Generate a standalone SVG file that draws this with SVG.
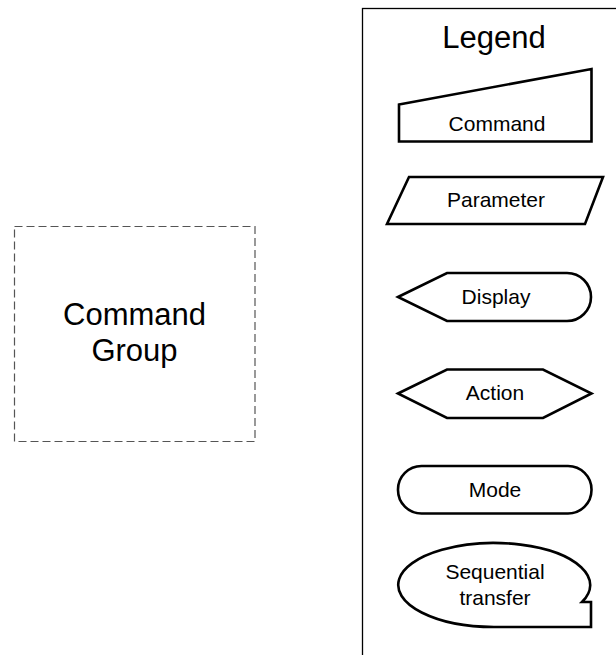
<svg xmlns="http://www.w3.org/2000/svg" width="616" height="655" viewBox="0 0 616 655">
<style>
.shape{fill:#fff;stroke:#000;stroke-width:2.6;stroke-linejoin:miter}
.lbl{font-family:"Liberation Sans",Arial,sans-serif;font-size:21px;fill:#000;text-anchor:middle}
.big{font-family:"Liberation Sans",Arial,sans-serif;font-size:31px;fill:#000;text-anchor:middle}
</style>
<rect width="616" height="655" fill="#fff"/>
<g id="command-group">
<rect x="14.5" y="226.5" width="240.5" height="215" fill="none" stroke="#555" stroke-width="1.2" stroke-dasharray="8,4"/>
<text class="big" x="134.5" y="325">Command</text>
<text class="big" x="134.5" y="361">Group</text>
</g>
<g id="legend">
<rect x="362.5" y="8.5" width="270" height="660" fill="#fff" stroke="#000" stroke-width="1.3"/>
<text class="big" x="494" y="48">Legend</text>
</g>
<g id="legend-command">
<polygon class="shape" points="399,104.5 591.5,69 591.5,141.5 399,141.5"/>
<text class="lbl" x="497" y="131">Command</text>
</g>
<g id="legend-parameter">
<polygon class="shape" points="409,177 603,177 585,224 387,224"/>
<text class="lbl" x="496" y="207">Parameter</text>
</g>
<g id="legend-display">
<path class="shape" d="M398,297 L447,273 L567,273 A24,24 0 0 1 567,321 L447,321 Z"/>
<text class="lbl" x="496" y="304">Display</text>
</g>
<g id="legend-action">
<polygon class="shape" points="398,393.5 447,369.5 543,369.5 591.5,393.5 543,418 447,418"/>
<text class="lbl" x="495" y="400">Action</text>
</g>
<g id="legend-mode">
<rect class="shape" x="398" y="466" width="193.5" height="47.5" rx="23.5" ry="23.5"/>
<text class="lbl" x="495" y="497">Mode</text>
</g>
<g id="legend-sequential">
<path class="shape" d="M582,602 A96,42 0 1 0 494,627 L591,627 L591,602 Z"/>
<text class="lbl" x="495" y="579">Sequential</text>
<text class="lbl" x="495" y="605">transfer</text>
</g>
<g id="connectors"></g>
</svg>
